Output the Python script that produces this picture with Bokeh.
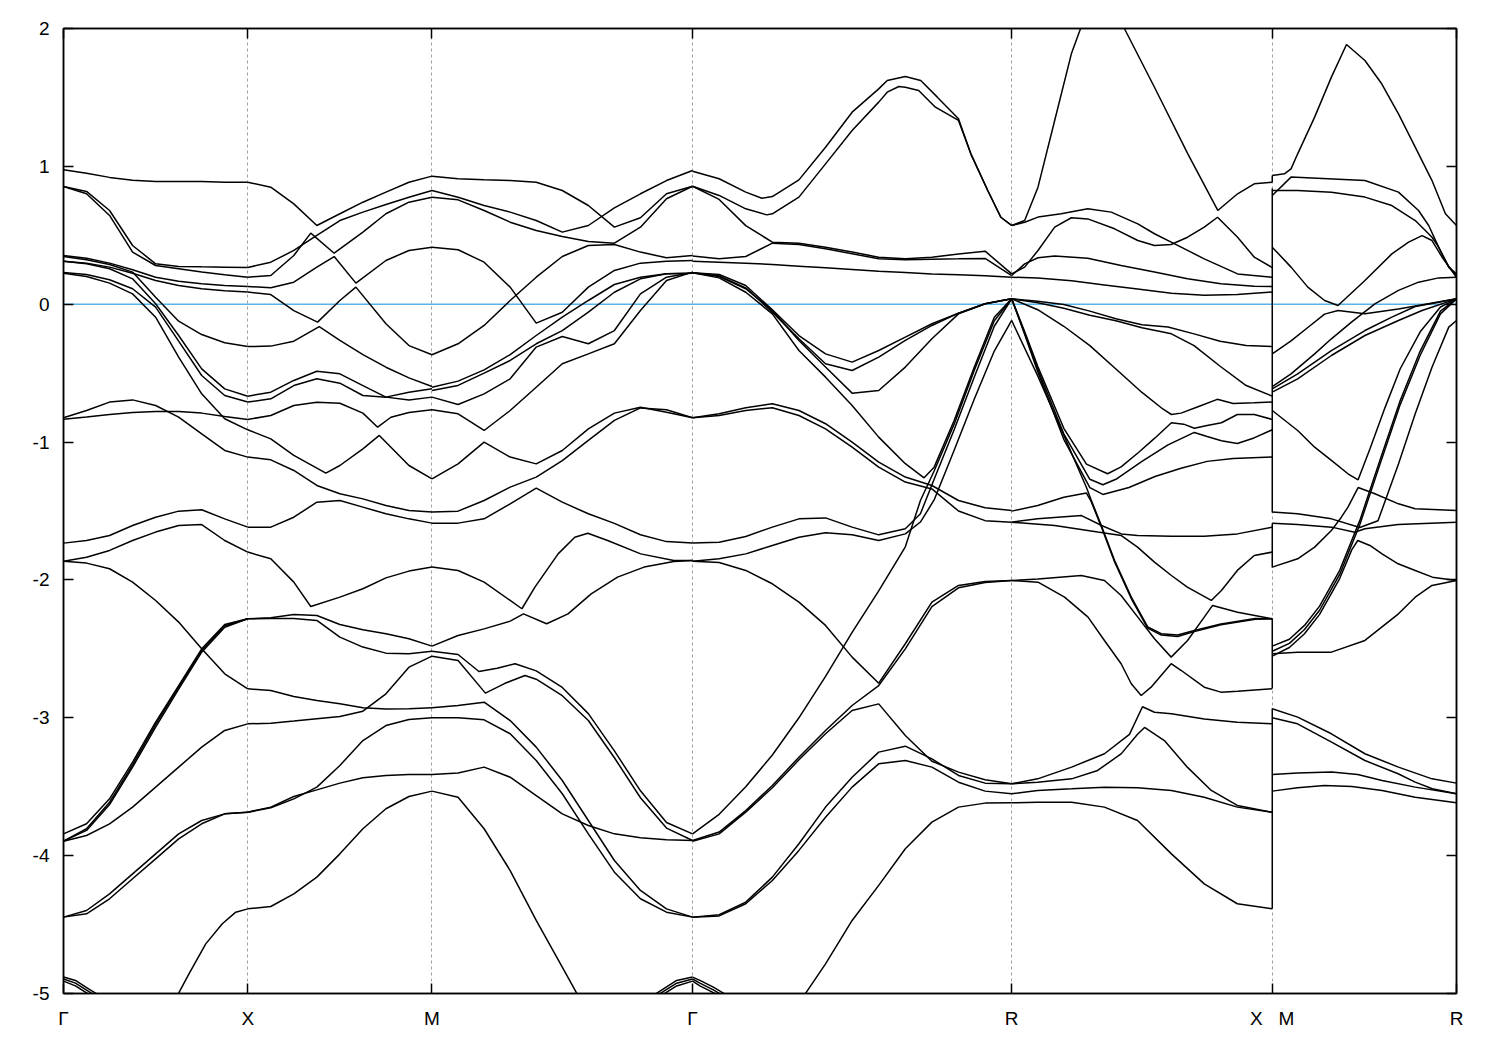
from bokeh.plotting import figure
from bokeh.models import FixedTicker, LinearAxis, Range1d, Span, ColumnDataSource
from bokeh.embed import file_html
from bokeh.resources import INLINE

# ---------------- path / axes data ----------------
K_NAMES = ["Γ", "X", "M", "Γ", "R", "X\u00a0\u00a0\u00a0M", "R"]
K_POS = [0.0, 0.5, 1.0, 1.7071, 2.5731, 3.2802, 3.7802]
Y_TICKS = [-5, -4, -3, -2, -1, 0, 1, 2]
Y_LABELS = ["-5", "-4", "-3", "-2", "-1", "0", "1", "2"]
E_FERMI = 0.0

# uniform sampling grids (fraction along a segment)
G9 = [i / 8 for i in range(9)]
G11 = [i / 10 for i in range(11)]
G13 = [i / 12 for i in range(13)]

# ---------------- bands, segment Γ-X (grid G9 unless given) ----------------
SEG_GX = [
    [0.975, 0.95, 0.92, 0.90, 0.89, 0.89, 0.89, 0.885, 0.885],
    [0.854, 0.818, 0.680, 0.426, 0.293, 0.274, 0.271, 0.269, 0.266],
    [0.854, 0.801, 0.644, 0.378, 0.281, 0.257, 0.233, 0.213, 0.196],
    [0.353, 0.334, 0.298, 0.250, 0.196, 0.167, 0.148, 0.136, 0.129],
    [0.312, 0.298, 0.269, 0.225, 0.172, 0.136, 0.112, 0.097, 0.088],
    [0.346, 0.322, 0.288, 0.233, 0.051, -0.123, -0.220, -0.280, -0.307],
    [0.312, 0.293, 0.257, 0.184, 0.003, -0.227, -0.469, -0.614, -0.667],
    [0.230, 0.216, 0.177, 0.112, -0.021, -0.268, -0.517, -0.662, -0.710],
    [0.225, 0.201, 0.153, 0.075, -0.094, -0.384, -0.650, -0.831, -0.911],
    [-0.824, -0.771, -0.710, -0.694, -0.735, -0.819, -0.940, -1.061, -1.109],
    [-0.834, -0.819, -0.800, -0.786, -0.778, -0.778, -0.790, -0.814, -0.836],
    [-1.733, -1.714, -1.678, -1.605, -1.545, -1.501, -1.491, -1.557, -1.617],
    [-1.864, -1.835, -1.786, -1.714, -1.653, -1.605, -1.598, -1.714, -1.798],
    [-1.864, -1.878, -1.919, -2.016, -2.149, -2.306, -2.500, -2.681, -2.790],
    [-3.842, -3.769, -3.588, -3.322, -3.032, -2.766, -2.500, -2.323, -2.282],
    [-3.895, -3.805, -3.612, -3.341, -3.048, -2.778, -2.512, -2.333, -2.282],
    [-3.895, -3.817, -3.629, -3.358, -3.068, -2.792, -2.524, -2.343, -2.282],
    [-3.895, -3.854, -3.769, -3.648, -3.503, -3.358, -3.213, -3.092, -3.044],
    [-4.446, -4.398, -4.277, -4.132, -3.987, -3.842, -3.745, -3.697, -3.685],
    [-4.446, -4.422, -4.313, -4.168, -4.023, -3.878, -3.769, -3.697, -3.685],
    ([0.6, 0.625, 0.681, 0.772, 0.862, 0.935, 1.0], [-5.08, -4.997, -4.857, -4.640, -4.494, -4.410, -4.386]),
    ([0, 0.065, 0.136, 0.174, 0.2], [-4.881, -4.905, -4.966, -4.997, -5.03]),
    ([0, 0.065, 0.136, 0.174, 0.2], [-4.895, -4.925, -4.985, -5.015, -5.05]),
    ([0, 0.065, 0.136, 0.174, 0.2], [-4.910, -4.945, -5.005, -5.035, -5.07]),
]

# ---------------- segment X-M (grid G9 unless given) ----------------
SEG_XM = [
    [0.885, 0.849, 0.728, 0.571, 0.656, 0.740, 0.813, 0.885, 0.929],
    [0.266, 0.305, 0.390, 0.499, 0.607, 0.668, 0.723, 0.776, 0.825],
    ([0, 0.125, 0.25, 0.342, 0.469, 0.625, 0.75, 0.875, 1], [0.196, 0.208, 0.353, 0.516, 0.370, 0.523, 0.656, 0.740, 0.776]),
    ([0, 0.125, 0.25, 0.375, 0.469, 0.587, 0.75, 0.875, 1], [0.129, 0.119, 0.160, 0.269, 0.346, 0.153, 0.317, 0.390, 0.414]),
    ([0, 0.125, 0.25, 0.379, 0.5, 0.587, 0.75, 0.875, 1], [0.088, 0.070, -0.046, -0.130, 0.027, 0.124, -0.142, -0.300, -0.367]),
    ([0, 0.125, 0.25, 0.388, 0.5, 0.625, 0.75, 0.875, 1], [-0.307, -0.304, -0.268, -0.163, -0.263, -0.365, -0.457, -0.534, -0.597]),
    [-0.667, -0.638, -0.553, -0.486, -0.505, -0.590, -0.674, -0.694, -0.674],
    [-0.710, -0.686, -0.590, -0.541, -0.573, -0.662, -0.674, -0.638, -0.614],
    ([0, 0.125, 0.25, 0.375, 0.5, 0.625, 0.705, 0.777, 0.875, 1], [-0.836, -0.807, -0.735, -0.711, -0.718, -0.790, -0.892, -0.820, -0.785, -0.766]),
    ([0, 0.125, 0.25, 0.424, 0.5, 0.625, 0.714, 0.875, 1], [-0.911, -0.977, -1.097, -1.225, -1.170, -1.049, -0.952, -1.170, -1.267]),
    [-1.109, -1.129, -1.206, -1.315, -1.375, -1.412, -1.460, -1.497, -1.508],
    [-1.617, -1.617, -1.545, -1.436, -1.424, -1.472, -1.520, -1.557, -1.588],
    ([0, 0.125, 0.25, 0.342, 0.5, 0.625, 0.75, 0.875, 1], [-1.798, -1.847, -2.016, -2.193, -2.125, -2.064, -1.985, -1.936, -1.907]),
    [-2.282, -2.275, -2.251, -2.258, -2.323, -2.362, -2.391, -2.427, -2.480],
    [-2.282, -2.280, -2.280, -2.294, -2.415, -2.487, -2.531, -2.536, -2.517],
    [-2.790, -2.802, -2.845, -2.874, -2.899, -2.928, -2.937, -2.935, -2.928],
    [-3.044, -3.039, -3.024, -3.007, -2.991, -2.952, -2.826, -2.633, -2.553],
    [-3.685, -3.653, -3.588, -3.503, -3.346, -3.165, -3.056, -3.012, -3.000],
    [-3.685, -3.648, -3.571, -3.523, -3.474, -3.435, -3.418, -3.411, -3.411],
    [-4.386, -4.369, -4.277, -4.156, -3.987, -3.805, -3.660, -3.571, -3.532],
]

# ---------------- segment M-Γ (grid G11 unless given) ----------------
SEG_MG = [
    [0.929, 0.910, 0.902, 0.897, 0.885, 0.825, 0.716, 0.559, 0.627, 0.801, 0.856],
    [0.825, 0.776, 0.716, 0.668, 0.607, 0.523, 0.571, 0.699, 0.801, 0.897, 0.970],
    [0.776, 0.757, 0.680, 0.595, 0.535, 0.491, 0.455, 0.443, 0.559, 0.765, 0.856],
    [0.414, 0.395, 0.305, 0.124, -0.137, -0.058, 0.124, 0.245, 0.298, 0.312, 0.317],
    [-0.367, -0.287, -0.154, 0.027, 0.196, 0.346, 0.426, 0.433, 0.378, 0.337, 0.353],
    [-0.602, -0.558, -0.476, -0.365, -0.227, -0.094, 0.027, 0.143, 0.196, 0.221, 0.225],
    [-0.626, -0.589, -0.500, -0.408, -0.287, -0.191, -0.058, 0.087, 0.184, 0.221, 0.225],
    [-0.674, -0.727, -0.650, -0.541, -0.311, -0.234, -0.287, -0.191, 0.075, 0.196, 0.230],
    [-0.766, -0.795, -0.916, -0.771, -0.602, -0.432, -0.360, -0.287, -0.046, 0.172, 0.233],
    [-1.267, -1.158, -1.000, -1.109, -1.158, -1.061, -0.904, -0.790, -0.747, -0.783, -0.824],
    [-1.508, -1.501, -1.424, -1.327, -1.254, -1.134, -0.988, -0.843, -0.752, -0.766, -0.824],
    [-1.588, -1.588, -1.557, -1.448, -1.334, -1.436, -1.520, -1.590, -1.672, -1.722, -1.733],
    ([0, 0.1, 0.2, 0.3, 0.345, 0.395, 0.484, 0.548, 0.598, 0.674, 0.801, 0.928, 1.0],
     [-1.907, -1.932, -2.016, -2.149, -2.209, -2.052, -1.811, -1.690, -1.661, -1.714, -1.811, -1.859, -1.859]),
    ([0, 0.1, 0.2, 0.3, 0.351, 0.44, 0.522, 0.611, 0.712, 0.814, 0.928, 1.0],
     [-2.480, -2.403, -2.355, -2.299, -2.246, -2.318, -2.246, -2.101, -1.980, -1.907, -1.866, -1.859]),
    ([0, 0.1, 0.18, 0.25, 0.319, 0.4, 0.5, 0.6, 0.7, 0.8, 0.9, 1.0],
     [-2.517, -2.541, -2.664, -2.640, -2.608, -2.66, -2.78, -2.97, -3.24, -3.53, -3.76, -3.842]),
    ([0, 0.1, 0.205, 0.28, 0.357, 0.4, 0.5, 0.6, 0.7, 0.8, 0.9, 1.0],
     [-2.553, -2.584, -2.821, -2.75, -2.693, -2.72, -2.84, -3.02, -3.29, -3.58, -3.80, -3.890]),
    [-2.928, -2.911, -2.887, -3.020, -3.213, -3.455, -3.745, -4.035, -4.252, -4.386, -4.446],
    [-3.000, -3.000, -3.015, -3.116, -3.310, -3.551, -3.842, -4.120, -4.313, -4.410, -4.446],
    [-3.411, -3.401, -3.358, -3.431, -3.564, -3.697, -3.781, -3.842, -3.871, -3.885, -3.890],
    ([0, 0.1, 0.2, 0.3, 0.4, 0.5, 0.6], [-3.532, -3.576, -3.805, -4.108, -4.470, -4.809, -5.15]),
    ([0.84, 0.863, 0.939, 1.0], [-5.03, -4.997, -4.905, -4.881]),
    ([0.84, 0.863, 0.939, 1.0], [-5.05, -5.015, -4.925, -4.895]),
    ([0.84, 0.863, 0.939, 1.0], [-5.07, -5.035, -4.945, -4.910]),
]

# ---------------- segment Γ-R (grid G13 unless given) ----------------
GR_STEEP = [0, 0.0833, 0.1667, 0.25, 0.3333, 0.4167, 0.5, 0.5833, 0.6667, 0.714, 0.757, 0.8197, 0.8826, 0.9455, 1]
SEG_GR = [
    ([0, 0.0833, 0.1667, 0.217, 0.25, 0.3333, 0.4167, 0.5, 0.5833, 0.610, 0.6667, 0.715, 0.767, 0.8333, 0.872, 0.925, 0.966, 1],
     [0.965, 0.910, 0.813, 0.769, 0.781, 0.902, 1.139, 1.393, 1.562, 1.623, 1.652, 1.623, 1.502, 1.345, 1.091, 0.825, 0.631, 0.571]),
    ([0, 0.0833, 0.1667, 0.2327, 0.25, 0.3333, 0.4167, 0.5, 0.5833, 0.610, 0.6464, 0.6667, 0.7086, 0.761, 0.8333, 0.872, 0.925, 0.966, 1],
     [0.856, 0.789, 0.692, 0.648, 0.656, 0.777, 1.018, 1.260, 1.466, 1.538, 1.579, 1.574, 1.550, 1.429, 1.333, 1.091, 0.825, 0.631, 0.571]),
    [0.856, 0.76, 0.57, 0.45, 0.443, 0.414, 0.378, 0.341, 0.329, 0.341, 0.365, 0.385, 0.220],
    [0.349, 0.329, 0.346, 0.443, 0.433, 0.402, 0.366, 0.329, 0.322, 0.327, 0.329, 0.332, 0.208],
    [0.312, 0.305, 0.298, 0.288, 0.276, 0.264, 0.252, 0.240, 0.230, 0.220, 0.213, 0.206, 0.196],
    [0.228, 0.216, 0.136, -0.041, -0.227, -0.360, -0.420, -0.336, -0.239, -0.142, -0.065, 0.003, 0.039],
    [0.228, 0.206, 0.119, -0.058, -0.251, -0.432, -0.481, -0.384, -0.263, -0.154, -0.065, 0.003, 0.039],
    [0.228, 0.201, 0.112, -0.046, -0.263, -0.456, -0.645, -0.626, -0.456, -0.251, -0.070, 0.003, 0.039],
    ([0, 0.0833, 0.1667, 0.25, 0.3333, 0.4167, 0.5, 0.5833, 0.6667, 0.7254, 0.757, 0.8197, 0.8826, 0.9455, 1],
     [0.228, 0.191, 0.087, -0.070, -0.336, -0.529, -0.734, -0.964, -1.157, -1.259, -1.182, -0.843, -0.457, -0.094, 0.039]),
    (GR_STEEP, [-3.842, -3.70, -3.50, -3.27, -3.00, -2.70, -2.38, -2.08, -1.76, -1.424, -1.21, -0.87, -0.48, -0.12, 0.039]),
    (GR_STEEP, [-1.733, -1.726, -1.685, -1.617, -1.557, -1.550, -1.617, -1.673, -1.629, -1.52, -1.27, -0.91, -0.53, -0.16, 0.039]),
    (GR_STEEP, [-1.864, -1.847, -1.811, -1.750, -1.690, -1.658, -1.673, -1.714, -1.666, -1.58, -1.42, -1.06, -0.69, -0.34, -0.118]),
    [-0.824, -0.795, -0.751, -0.722, -0.771, -0.867, -1.000, -1.145, -1.254, -1.315, -1.424, -1.477, -1.496],
    [-0.824, -0.807, -0.771, -0.751, -0.807, -0.904, -1.037, -1.182, -1.290, -1.340, -1.50, -1.57, -1.581],
    [-1.864, -1.874, -1.931, -2.028, -2.161, -2.330, -2.560, -2.749, -2.463, -2.161, -2.040, -2.011, -2.004],
    [-3.890, -3.829, -3.673, -3.491, -3.286, -3.092, -2.911, -2.766, -2.500, -2.193, -2.057, -2.019, -2.004],
    [-3.895, -3.842, -3.684, -3.508, -3.305, -3.116, -2.947, -2.899, -3.128, -3.315, -3.394, -3.450, -3.479],
    [-4.446, -4.429, -4.337, -4.156, -3.914, -3.648, -3.431, -3.249, -3.206, -3.298, -3.418, -3.474, -3.479],
    [-4.446, -4.437, -4.349, -4.180, -3.962, -3.721, -3.503, -3.334, -3.310, -3.358, -3.467, -3.532, -3.551],
    ([0.3333, 0.4167, 0.5, 0.5833, 0.6667, 0.75, 0.8333, 0.9167, 1], [-5.07, -4.785, -4.470, -4.216, -3.950, -3.757, -3.648, -3.619, -3.617]),
    ([0, 0.023, 0.065, 0.0965, 0.12], [-4.881, -4.905, -4.954, -4.997, -5.03]),
    ([0, 0.023, 0.065, 0.0965, 0.12], [-4.895, -4.925, -4.974, -5.017, -5.05]),
    ([0, 0.023, 0.065, 0.0965, 0.12], [-4.910, -4.945, -4.994, -5.037, -5.07]),
]

# ---------------- segment R-X (grid G11 unless given) ----------------
SEG_RX = [
    ([0, 0.0498, 0.101, 0.165, 0.229, 0.264, 0.334, 0.433, 0.548, 0.676, 0.791, 0.867, 0.931, 1.0],
     [0.571, 0.607, 0.849, 1.333, 1.816, 1.998, 2.36, 1.998, 1.574, 1.091, 0.680, 0.801, 0.873, 0.885]),
    ([0, 0.0498, 0.101, 0.190, 0.292, 0.382, 0.484, 0.548, 0.612, 0.675, 0.739, 0.867, 1.0],
     [0.571, 0.595, 0.632, 0.656, 0.692, 0.668, 0.583, 0.511, 0.450, 0.390, 0.329, 0.220, 0.196]),
    ([0, 0.0498, 0.101, 0.165, 0.229, 0.292, 0.395, 0.484, 0.548, 0.612, 0.675, 0.739, 0.790, 0.867, 0.931, 1],
     [0.220, 0.269, 0.390, 0.559, 0.627, 0.619, 0.547, 0.462, 0.426, 0.433, 0.486, 0.559, 0.631, 0.486, 0.341, 0.266]),
    ([0, 0.0498, 0.101, 0.165, 0.292, 0.420, 0.548, 0.675, 0.803, 0.931, 1],
     [0.208, 0.293, 0.337, 0.349, 0.334, 0.281, 0.233, 0.184, 0.148, 0.131, 0.129]),
    ([0, 0.0996, 0.230, 0.356, 0.483, 0.613, 0.739, 0.866, 1],
     [0.196, 0.19, 0.17, 0.14, 0.11, 0.08, 0.065, 0.07, 0.088]),
    [0.039, 0.022, -0.002, -0.050, -0.106, -0.149, -0.166, -0.215, -0.268, -0.299, -0.307],
    ([0, 0.1, 0.2, 0.3, 0.4, 0.5, 0.613, 0.7, 0.8, 0.9, 1],
     [0.039, 0.01, -0.03, -0.08, -0.12, -0.17, -0.215, -0.30, -0.45, -0.59, -0.667]),
    ([0, 0.1, 0.2, 0.3, 0.4, 0.5, 0.58, 0.613, 0.65, 0.72, 0.789, 0.85, 0.93, 1],
     [0.039, -0.04, -0.16, -0.30, -0.47, -0.64, -0.76, -0.80, -0.79, -0.74, -0.69, -0.72, -0.715, -0.710]),
    ([0, 0.05, 0.1, 0.2, 0.287, 0.368, 0.42, 0.49, 0.55, 0.613, 0.66, 0.701, 0.75, 0.805, 0.866, 0.931, 1],
     [0.039, -0.20, -0.45, -0.90, -1.16, -1.23, -1.18, -1.07, -0.97, -0.86, -0.87, -0.90, -0.88, -0.86, -0.80, -0.80, -0.836]),
    ([0, 0.05, 0.1, 0.2, 0.3, 0.35, 0.4, 0.5, 0.6, 0.701, 0.75, 0.805, 0.866, 0.93, 1],
     [0.039, -0.21, -0.47, -0.94, -1.27, -1.31, -1.27, -1.14, -1.02, -0.93, -0.96, -0.99, -1.01, -0.97, -0.911]),
    ([0, 0.05, 0.1, 0.2, 0.3, 0.35, 0.45, 0.55, 0.65, 0.75, 0.85, 1],
     [0.039, -0.22, -0.49, -0.98, -1.33, -1.38, -1.33, -1.25, -1.19, -1.14, -1.12, -1.109]),
    ([0, 0.1, 0.2, 0.287, 0.305, 0.344, 0.395, 0.459, 0.522, 0.574, 0.637, 0.701, 0.803, 0.935, 1],
     [-0.118, -0.52, -0.95, -1.33, -1.42, -1.605, -1.859, -2.125, -2.34, -2.39, -2.40, -2.367, -2.32, -2.28, -2.282]),
    ([0, 0.1, 0.2, 0.287, 0.305, 0.344, 0.395, 0.459, 0.522, 0.574, 0.637, 0.701, 0.803, 0.935, 1],
     [-1.501, -1.46, -1.40, -1.37, -1.43, -1.615, -1.87, -2.135, -2.35, -2.40, -2.41, -2.375, -2.325, -2.285, -2.282]),
    ([0, 0.0996, 0.268, 0.345, 0.421, 0.483, 0.613, 0.739, 0.866, 1],
     [-1.581, -1.557, -1.533, -1.605, -1.666, -1.678, -1.683, -1.683, -1.666, -1.617]),
    ([0, 0.165, 0.330, 0.421, 0.483, 0.548, 0.613, 0.674, 0.766, 0.805, 0.866, 0.931, 1],
     [-1.581, -1.605, -1.653, -1.678, -1.762, -1.871, -1.968, -2.052, -2.149, -2.077, -1.931, -1.823, -1.798]),
    ([0, 0.101, 0.267, 0.356, 0.420, 0.484, 0.548, 0.612, 0.675, 0.739, 0.771, 0.867, 1],
     [-2.004, -1.994, -1.968, -2.004, -2.113, -2.270, -2.427, -2.560, -2.439, -2.270, -2.185, -2.234, -2.282]),
    ([0, 0.101, 0.203, 0.293, 0.356, 0.420, 0.459, 0.497, 0.535, 0.612, 0.651, 0.739, 0.803, 0.867, 1],
     [-2.004, -2.016, -2.125, -2.270, -2.439, -2.608, -2.753, -2.838, -2.778, -2.608, -2.657, -2.778, -2.814, -2.807, -2.790]),
    ([0, 0.0996, 0.230, 0.356, 0.452, 0.502, 0.548, 0.613, 0.739, 0.866, 1],
     [-3.479, -3.443, -3.358, -3.261, -3.12, -2.92, -2.96, -2.97, -3.008, -3.032, -3.044]),
    ([0, 0.0996, 0.230, 0.330, 0.421, 0.483, 0.510, 0.586, 0.674, 0.766, 0.866, 1],
     [-3.479, -3.467, -3.443, -3.382, -3.26, -3.12, -3.07, -3.165, -3.358, -3.527, -3.636, -3.685]),
    ([0, 0.0996, 0.230, 0.356, 0.483, 0.613, 0.739, 0.866, 1],
     [-3.551, -3.527, -3.515, -3.503, -3.508, -3.527, -3.576, -3.648, -3.685]),
    ([0, 0.0996, 0.230, 0.356, 0.483, 0.613, 0.739, 0.866, 1],
     [-3.617, -3.612, -3.612, -3.648, -3.745, -3.987, -4.205, -4.349, -4.386]),
]

# ---------------- segment M-R (custom fractions) ----------------
MR_BUNDLE = [0, 0.093, 0.175, 0.257, 0.366, 0.475, 0.585, 0.694, 0.803, 0.913, 1]
SEG_MR = [
    ([0, 0.066, 0.102, 0.138, 0.230, 0.321, 0.403, 0.503, 0.594, 0.685, 0.776, 0.867, 0.940, 1],
     [0.934, 0.946, 0.982, 1.091, 1.357, 1.647, 1.884, 1.768, 1.599, 1.381, 1.139, 0.897, 0.656, 0.571]),
    ([0, 0.102, 0.503, 0.685, 0.794, 0.849, 0.903, 0.958, 1],
     [0.789, 0.922, 0.898, 0.813, 0.680, 0.571, 0.414, 0.269, 0.220]),
    ([0, 0.138, 0.321, 0.503, 0.649, 0.776, 0.831, 0.867, 0.903, 0.958, 1],
     [0.825, 0.825, 0.813, 0.777, 0.716, 0.607, 0.535, 0.486, 0.414, 0.269, 0.208]),
    ([0, 0.102, 0.193, 0.284, 0.357, 0.503, 0.649, 0.740, 0.813, 0.867, 0.922, 1],
     [0.414, 0.269, 0.124, 0.027, -0.009, 0.172, 0.365, 0.450, 0.498, 0.462, 0.341, 0.196]),
    ([0, 0.102, 0.193, 0.284, 0.357, 0.503, 0.685, 0.831, 1],
     [-0.360, -0.266, -0.169, -0.072, -0.046, -0.070, -0.034, 0.0, 0.039]),
    ([0, 0.102, 0.230, 0.321, 0.430, 0.557, 0.685, 0.794, 0.903, 1],
     [-0.597, -0.505, -0.360, -0.251, -0.130, 0.003, 0.100, 0.160, 0.191, 0.196]),
    ([0, 0.138, 0.321, 0.503, 0.649, 0.776, 0.903, 1],
     [-0.614, -0.505, -0.336, -0.191, -0.094, -0.017, 0.015, 0.039]),
    ([0, 0.138, 0.321, 0.503, 0.685, 0.813, 1],
     [-0.638, -0.541, -0.372, -0.227, -0.118, -0.046, 0.039]),
    ([0, 0.138, 0.230, 0.321, 0.411, 0.466, 0.530, 0.612, 0.694, 0.803, 0.913, 1],
     [-0.771, -0.916, -1.037, -1.133, -1.230, -1.274, -1.05, -0.75, -0.47, -0.20, -0.02, 0.039]),
    ([0, 0.138, 0.230, 0.321, 0.375, 0.411, 0.466, 0.557, 0.685, 0.776, 1],
     [-1.907, -1.847, -1.762, -1.641, -1.545, -1.472, -1.33, -1.375, -1.448, -1.484, -1.496]),
    ([0, 0.137, 0.322, 0.475, 0.574, 0.685, 0.776, 0.867, 0.958, 1],
     [-1.508, -1.520, -1.557, -1.62, -1.571, -1.159, -0.795, -0.457, -0.166, -0.118]),
    ([0, 0.137, 0.322, 0.448, 0.503, 0.683, 1],
     [-1.588, -1.598, -1.617, -1.654, -1.629, -1.598, -1.581]),
    (MR_BUNDLE, [-2.480, -2.43, -2.33, -2.19, -1.93, -1.57, -1.13, -0.70, -0.34, -0.05, 0.039]),
    (MR_BUNDLE, [-2.517, -2.46, -2.36, -2.22, -1.96, -1.60, -1.16, -0.73, -0.37, -0.07, 0.039]),
    ([0, 0.093, 0.175, 0.257, 0.366, 0.432, 0.464, 0.530, 0.596, 0.683, 0.776, 0.869, 1],
     [-2.553, -2.49, -2.39, -2.25, -1.99, -1.78, -1.714, -1.75, -1.811, -1.883, -1.932, -1.980, -2.004]),
    ([0, 0.138, 0.321, 0.503, 0.685, 0.776, 0.867, 1],
     [-2.536, -2.524, -2.524, -2.439, -2.246, -2.125, -2.040, -2.004]),
    ([0, 0.138, 0.321, 0.503, 0.685, 0.867, 1],
     [-2.935, -2.995, -3.116, -3.261, -3.358, -3.443, -3.474]),
    ([0, 0.137, 0.322, 0.503, 0.683, 0.776, 0.869, 1],
     [-3.0, -3.044, -3.177, -3.310, -3.406, -3.467, -3.515, -3.551]),
    ([0, 0.137, 0.322, 0.464, 0.596, 0.776, 1],
     [-3.411, -3.401, -3.394, -3.411, -3.455, -3.503, -3.551]),
    ([0, 0.137, 0.284, 0.432, 0.596, 0.776, 1],
     [-3.532, -3.508, -3.491, -3.498, -3.527, -3.576, -3.617]),
]

# vertical connections drawn at the X|M break (top energy, bottom energy)
JUMP_TOP = [0.934, 0.839, -1.591, -2.280, -2.933]
JUMP_BOT = [0.885, -1.511, -1.910, -2.787, -4.383]

SEGMENTS = [(SEG_GX, G9), (SEG_XM, G9), (SEG_MG, G11), (SEG_GR, G13), (SEG_RX, G11), (SEG_MR, G9)]

# ---------------- build line data ----------------
xs_all, ys_all = [], []
for i, (bands, grid) in enumerate(SEGMENTS):
    k0, k1 = K_POS[i], K_POS[i + 1]
    for b in bands:
        if isinstance(b, tuple):
            fr, en = b
        else:
            fr, en = grid, b
        xs_all.append([k0 + f * (k1 - k0) for f in fr])
        ys_all.append(list(en))

src = ColumnDataSource(dict(xs=xs_all, ys=ys_all))
jsrc = ColumnDataSource(dict(x=[K_POS[5]] * len(JUMP_TOP), y0=JUMP_TOP, y1=JUMP_BOT))

FONT = "Liberation Sans"

p = figure(
    frame_width=1393, frame_height=965,
    x_range=Range1d(K_POS[0], K_POS[-1]), y_range=Range1d(-5, 2),
    output_backend="svg", toolbar_location=None,
    min_border_left=63, min_border_top=28, min_border_right=30, min_border_bottom=45,
)
p.background_fill_color = "white"
p.border_fill_color = "white"
p.outline_line_color = "black"
p.outline_line_width = 1.5

# grid: dotted vertical lines at interior high-symmetry points
p.ygrid.visible = False
p.xgrid.ticker = FixedTicker(ticks=K_POS[1:-1])
p.xgrid.grid_line_color = "#a0a0a0"
p.xgrid.grid_line_dash = "3 3"
p.xgrid.grid_line_width = 1

# Fermi level
p.add_layout(Span(location=E_FERMI, dimension="width", line_color="#56b4e9",
                  line_width=1.5, level="underlay"))

p.multi_line(xs="xs", ys="ys", source=src, line_color="black", line_width=1.5)
p.segment(x0="x", y0="y0", x1="x", y1="y1", source=jsrc, line_color="black", line_width=1.5)

# axes
xa = p.xaxis[0]
xa.ticker = FixedTicker(ticks=K_POS)
xa.major_label_overrides = {k: n for k, n in zip(K_POS, K_NAMES)}
ya = p.yaxis[0]
ya.ticker = FixedTicker(ticks=Y_TICKS)
ya.major_label_overrides = {t: l for t, l in zip(Y_TICKS, Y_LABELS)}
for ax in (xa, ya):
    ax.major_tick_in = 10
    ax.major_tick_out = 0
    ax.minor_tick_line_color = None
    ax.axis_line_width = 1.5
    ax.major_tick_line_width = 1.5
    ax.major_label_text_font = FONT
    ax.major_label_text_font_size = "19px"
    ax.major_label_text_color = "black"
xa.major_label_standoff = 14
ya.major_label_standoff = 14

ra = LinearAxis(ticker=FixedTicker(ticks=Y_TICKS), major_tick_in=10, major_tick_out=0,
                minor_tick_line_color=None, axis_line_width=1.5, major_tick_line_width=1.5,
                major_label_text_alpha=0, major_label_text_font_size="1px", major_label_standoff=0)
ta = LinearAxis(ticker=FixedTicker(ticks=K_POS), major_tick_in=10, major_tick_out=0,
                minor_tick_line_color=None, axis_line_width=1.5, major_tick_line_width=1.5,
                major_label_text_alpha=0, major_label_text_font_size="1px", major_label_standoff=0)
p.add_layout(ra, "right")
p.add_layout(ta, "above")

open("out.html", "w").write(file_html(p, INLINE))
